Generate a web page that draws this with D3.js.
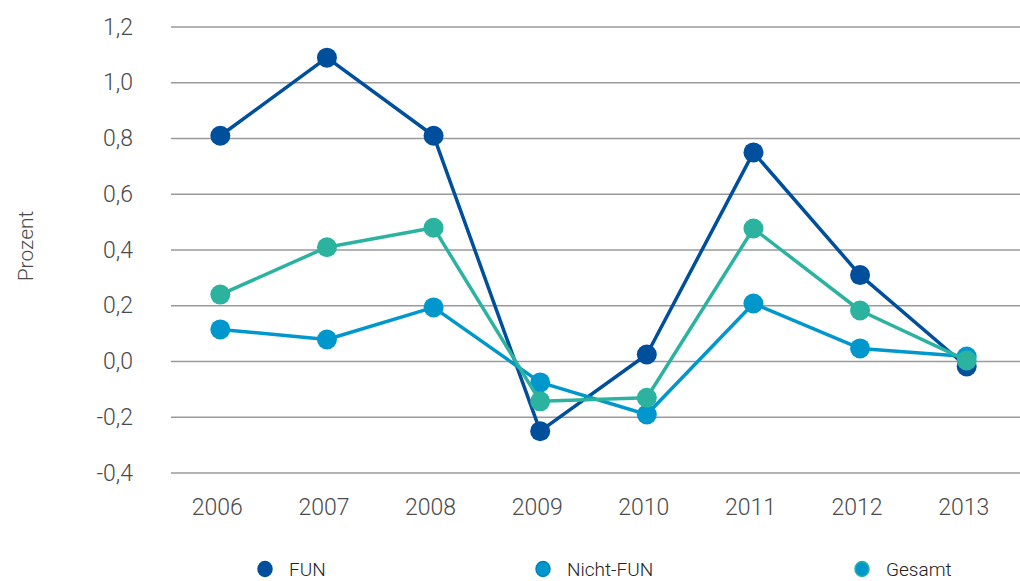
<!DOCTYPE html>
<html>
<head>
<meta charset="utf-8">
<script src="https://cdn.jsdelivr.net/npm/d3@7"></script>
<style>
  html, body { margin: 0; padding: 0; background: #fff; }
  svg { display: block; }
</style>
</head>
<body>
<div id="chart"></div>
<script>
// data
const years = ['2006', '2007', '2008', '2009', '2010', '2011', '2012', '2013'];
const fun = [0.81, 1.09, 0.81, -0.25, 0.025, 0.75, 0.31, -0.018];
const nichtFun = [0.115, 0.079, 0.194, -0.075, -0.19, 0.208, 0.047, 0.018];
const gesamt = [0.24, 0.41, 0.48, -0.143, -0.13, 0.477, 0.183, 0.004];
const yTicks = [-0.4, -0.2, 0, 0.2, 0.4, 0.6, 0.8, 1.0, 1.2];

const series = [
  { name: 'FUN', values: fun, color: '#004f9d', legFill: '#004f9d', legStroke: '#004f9d' },
  { name: 'Nicht-FUN', values: nichtFun, color: '#0098cc', legFill: '#0098cc', legStroke: '#0080c0' },
  { name: 'Gesamt', values: gesamt, color: '#2cb3a0', legFill: '#0098cc', legStroke: '#2cb3a0' }
];

const width = 1020, height = 581;
const font = 'Roboto, Arial, sans-serif';

const svg = d3.select('#chart').append('svg')
  .attr('width', width)
  .attr('height', height);

const x = d3.scaleBand().domain(years).range([167, 1020]);
const y = d3.scaleLinear().domain([-0.4, 1.2]).range([473, 27]);

// gridlines
svg.append('g')
  .selectAll('line')
  .data(yTicks)
  .enter()
  .append('line')
  .attr('x1', 171)
  .attr('x2', width)
  .attr('y1', d => y(d))
  .attr('y2', d => y(d))
  .attr('stroke', '#9a9a9a')
  .attr('stroke-width', 1.4);

// y labels
svg.append('g')
  .selectAll('text')
  .data(yTicks)
  .enter()
  .append('text')
  .attr('x', 133)
  .attr('y', d => y(d))
  .attr('dy', '0.33em')
  .attr('text-anchor', 'end')
  .attr('font-family', font)
  .attr('font-weight', 300)
  .attr('font-size', 23)
  .attr('fill', '#4a4a4a')
  .text(d => d3.format('.1f')(d).replace('.', ',').replace('−', '-'));

// x labels
svg.append('g')
  .selectAll('text')
  .data(years)
  .enter()
  .append('text')
  .attr('x', d => x(d) + x.bandwidth() / 2 - 3)
  .attr('y', 515)
  .attr('text-anchor', 'middle')
  .attr('font-family', font)
  .attr('font-weight', 300)
  .attr('font-size', 23)
  .attr('fill', '#4a4a4a')
  .text(d => d);

// axis title
svg.append('text')
  .attr('transform', 'translate(33,246) rotate(-90)')
  .attr('text-anchor', 'middle')
  .attr('font-family', font)
  .attr('font-weight', 300)
  .attr('font-size', 21)
  .attr('fill', '#4a4a4a')
  .text('Prozent');

// lines + markers
const line = d3.line()
  .x((d, i) => x(years[i]) + x.bandwidth() / 2)
  .y(d => y(d));

series.forEach(s => {
  const g = svg.append('g');
  g.append('path')
    .datum(s.values)
    .attr('d', line)
    .attr('fill', 'none')
    .attr('stroke', s.color)
    .attr('stroke-width', 3.5)
    .attr('stroke-linejoin', 'round');
  g.selectAll('circle')
    .data(s.values)
    .enter()
    .append('circle')
    .attr('cx', (d, i) => x(years[i]) + x.bandwidth() / 2)
    .attr('cy', d => y(d))
    .attr('r', 10)
    .attr('fill', s.color);
});

// legend
const legendX = [265, 543, 862];
const legend = svg.append('g')
  .selectAll('g')
  .data(series)
  .enter()
  .append('g')
  .attr('transform', (d, i) => `translate(${legendX[i]},569)`);

legend.append('ellipse')
  .attr('rx', 7)
  .attr('ry', 7.5)
  .attr('fill', d => d.legFill)
  .attr('stroke', d => d.legStroke)
  .attr('stroke-width', 1.5);

legend.append('text')
  .attr('x', 24)
  .attr('dy', '0.36em')
  .attr('font-family', font)
  .attr('font-weight', 300)
  .attr('font-size', 19)
  .attr('fill', '#222')
  .text(d => d.name);
</script>
</body>
</html>
